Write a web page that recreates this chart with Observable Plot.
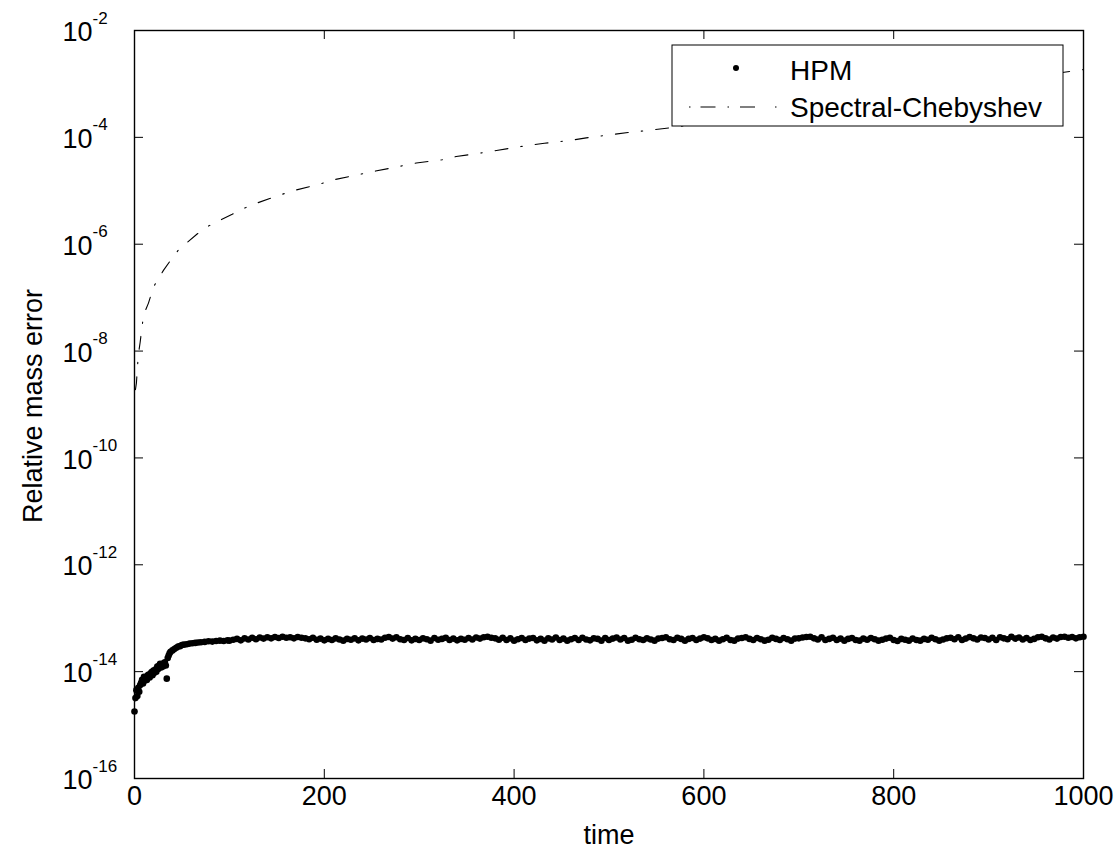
<!DOCTYPE html>
<html><head><meta charset="utf-8">
<script src="https://cdn.jsdelivr.net/npm/d3@7"></script>
<script src="https://cdn.jsdelivr.net/npm/@observablehq/plot@0.6"></script>
<style>
body{margin:0;background:#fff}
#chart svg{font-family:"Liberation Sans",Arial,Helvetica,sans-serif}
</style>
</head><body><div id="chart"></div>
<script>
// ---- data ----
const xTicks = [0, 200, 400, 600, 800, 1000];
const yTicks = [1e-16, 1e-14, 1e-12, 1e-10, 1e-8, 1e-6, 1e-4, 1e-2];
const seriesNames = ["HPM", "Spectral-Chebyshev"];
const xLabel = "time", yLabel = "Relative mass error";

// HPM, early transient (time, relative mass error)
const hpmEarlyT = [0,1,2,3,4,5,6,7,8,9,10,11,12,13,14,15,16,17,18,19,20,21,22,23,24,25,26,27,28,29,30,31,32,33,34,35,36,37,38,40,42,44,46,48,50,52,55,58,61,64,67,70,74,78,82,86,90,94,98];
const hpmEarlyV = [1.8e-15,3.2e-15,4.5e-15,3.5e-15,5.0e-15,4.2e-15,5.6e-15,6.2e-15,7.0e-15,6.0e-15,8.0e-15,6.8e-15,7.5e-15,7.0e-15,8.5e-15,8.8e-15,7.8e-15,9.2e-15,9.8e-15,8.6e-15,1.05e-14,9.5e-15,1.1e-14,1.0e-14,1.25e-14,1.12e-14,1.3e-14,1.4e-14,1.2e-14,1.35e-14,1.25e-14,1.45e-14,1.5e-14,1.3e-14,7.4e-15,1.8e-14,2.0e-14,2.2e-14,2.35e-14,2.5e-14,2.65e-14,2.8e-14,2.95e-14,3.0e-14,3.15e-14,3.2e-14,3.25e-14,3.35e-14,3.4e-14,3.45e-14,3.5e-14,3.55e-14,3.6e-14,3.7e-14,3.65e-14,3.75e-14,3.8e-14,3.75e-14,3.85e-14];
// HPM plateau: time 100..1000 every 4, values in units of 1e-14
const hpmPlateauStart = 100, hpmPlateauStep = 4;
const hpmPlateauE14 = [
3.8,3.95,4.1,3.85,4.2,4.0,4.3,4.05,4.35,4.15,
4.4,4.2,4.45,4.25,4.5,4.3,4.4,4.2,4.45,4.3,
4.2,4.05,4.3,3.95,4.15,3.85,4.1,3.9,4.2,4.0,
3.8,4.1,3.95,4.2,3.85,4.15,4.0,4.25,3.9,4.1,
4.0,4.3,4.45,4.15,4.4,4.05,3.9,4.25,3.85,4.1,
3.9,4.2,4.05,3.8,4.25,3.95,4.1,4.3,3.9,4.15,
3.85,4.1,3.95,4.25,4.0,4.35,4.15,4.4,4.5,4.3,
4.2,3.95,4.3,3.9,4.2,3.8,4.05,4.25,3.9,4.15,
4.25,3.85,4.1,3.8,4.2,4.0,4.35,3.9,4.15,3.8,
4.05,4.25,3.9,4.3,4.0,3.85,4.2,4.1,3.8,4.25,
3.9,4.15,4.35,4.0,4.25,3.8,3.95,4.3,4.05,3.9,
4.2,4.0,3.8,4.15,4.25,4.4,4.05,3.9,4.3,4.1,
3.8,4.1,4.25,3.9,4.15,4.4,4.2,3.9,4.1,3.8,
4.05,4.3,3.9,3.8,4.15,4.25,4.4,4.1,3.9,4.25,
4.05,3.8,3.95,4.3,4.1,3.9,4.25,4.05,3.8,4.15,
4.2,4.35,4.45,4.5,4.2,4.0,4.4,3.9,4.1,4.3,
3.9,4.15,3.8,4.1,4.25,3.9,3.8,4.15,3.95,4.25,
4.05,3.8,3.95,4.15,4.3,3.9,3.75,4.1,3.95,3.8,
4.15,3.9,3.8,4.1,3.95,4.3,4.05,3.8,4.0,4.2,
4.3,4.05,4.4,3.9,4.15,4.45,4.2,4.0,4.35,4.25,
4.0,4.3,3.9,4.4,4.2,4.05,4.5,4.15,4.35,4.0,
4.25,3.9,4.1,4.4,4.5,4.2,4.0,4.35,4.15,4.45,
4.5,4.3,4.45,4.2,4.4,4.5];

// Spectral-Chebyshev
const specT = [1,2,4,6,9.5,14.7,20,25,30.5,38,47,56,66,78,88,103,115,129,153,167,196,211,238,254,280,297,324,339,366,383,415,432,458,476,502,520,546,564,600,700,800,900,1000];
const specV = [1.9e-9,2.5e-9,8.5e-9,1.48e-8,4.7e-8,7.9e-8,1.58e-7,2.24e-7,3.24e-7,5.0e-7,8.1e-7,1.1e-6,1.55e-6,2.19e-6,2.69e-6,3.63e-6,4.68e-6,5.89e-6,8.3e-6,1.0e-5,1.35e-5,1.62e-5,2.04e-5,2.34e-5,2.88e-5,3.31e-5,3.8e-5,4.37e-5,5.13e-5,5.75e-5,7.08e-5,7.76e-5,8.71e-5,9.77e-5,1.12e-4,1.23e-4,1.38e-4,1.51e-4,1.86e-4,3.3e-4,5.9e-4,1.05e-3,1.86e-3];

// ---- tables ----
const hpm = hpmEarlyT.map((t, i) => ({t, v: hpmEarlyV[i]}))
  .concat(hpmPlateauE14.map((m, i) => ({t: hpmPlateauStart + i * hpmPlateauStep, v: m * 1e-14})));
const spec = specT.map((t, i) => ({t, v: specV[i]}));

// ---- layout ----
const W = 1120, H = 851, mL = 134, mR = 37, mT = 30, mB = 73;
const pw = W - mL - mR, ph = H - mT - mB, tk = 9;
const FS = 27;

const chart = Plot.plot({
  width: W, height: H,
  marginLeft: mL, marginRight: mR, marginTop: mT, marginBottom: mB,
  style: {background: "#fff", color: "#000", fontFamily: "Liberation Sans, Arial, Helvetica, sans-serif", fontSize: FS + "px", overflow: "visible"},
  x: {domain: [0, 1000]},
  y: {type: "log", domain: [1e-16, 1e-2]},
  marks: [
    Plot.ruleX(xTicks, {stroke: "#000", strokeWidth: 1, insetTop: ph - tk}),
    Plot.ruleX(xTicks, {stroke: "#000", strokeWidth: 1, insetBottom: ph - tk}),
    Plot.ruleY(yTicks, {stroke: "#000", strokeWidth: 1, insetRight: pw - tk}),
    Plot.ruleY(yTicks, {stroke: "#000", strokeWidth: 1, insetLeft: pw - tk}),
    Plot.axisX({ticks: xTicks, tickSize: 0, tickPadding: 7, label: null, fontSize: FS, tickFormat: d => String(d)}),
    Plot.axisY({ticks: yTicks, tickSize: 0, tickPadding: 72, label: null, fontSize: FS, tickFormat: d => String(Math.round(Math.log10(d)))}),
    Plot.text([xLabel], {frameAnchor: "bottom", dy: 57, fontSize: FS, lineAnchor: "middle"}),
    Plot.line(spec, {x: "t", y: "v", stroke: "#000", strokeWidth: 1.1, strokeDasharray: "13,13,1.5,13"}),
    Plot.dot(hpm, {x: "t", y: "v", r: 3.3, fill: "#000", stroke: null}),
    Plot.frame({stroke: "#000", strokeWidth: 1.4})
  ]
});

const svg = d3.select(chart);

// superscript exponents on y tick labels, "10" left-aligned in one column
svg.selectAll('g[aria-label="y-axis tick label"]').attr("text-anchor", "start");
svg.selectAll('g[aria-label="y-axis tick label"] text').each(function() {
  const el = d3.select(this);
  const e = el.text();
  el.attr("text-anchor", "start");
  el.text(null);
  el.append("tspan").attr("dy", 2).text("10");
  el.append("tspan").attr("dy", -17.5).attr("font-size", 17).text(e);
});

// y-axis title
svg.append("text").attr("transform", "translate(42,406) rotate(-90)")
  .attr("text-anchor", "middle").attr("font-size", FS).attr("fill", "#000").text(yLabel);

// legend
const lg = svg.append("g").attr("font-size", 28).attr("text-anchor", "start");
lg.append("rect").attr("x", 672).attr("y", 45).attr("width", 391).attr("height", 81)
  .attr("fill", "#fff").attr("stroke", "#000").attr("stroke-width", 1);
lg.append("circle").attr("cx", 736).attr("cy", 68).attr("r", 3).attr("fill", "#000");
lg.append("line").attr("x1", 689).attr("x2", 777).attr("y1", 107).attr("y2", 107)
  .attr("stroke", "#000").attr("stroke-width", 1.1).attr("stroke-dasharray", "1.5,10,15,12,1.5,11,15,20,1.5");
lg.append("text").attr("x", 790).attr("y", 70).attr("dy", "0.35em").attr("text-anchor", "start").text(seriesNames[0]);
lg.append("text").attr("x", 790).attr("y", 107).attr("dy", "0.35em").attr("text-anchor", "start").text(seriesNames[1]);

document.getElementById("chart").appendChild(chart);
</script>
</body></html>
